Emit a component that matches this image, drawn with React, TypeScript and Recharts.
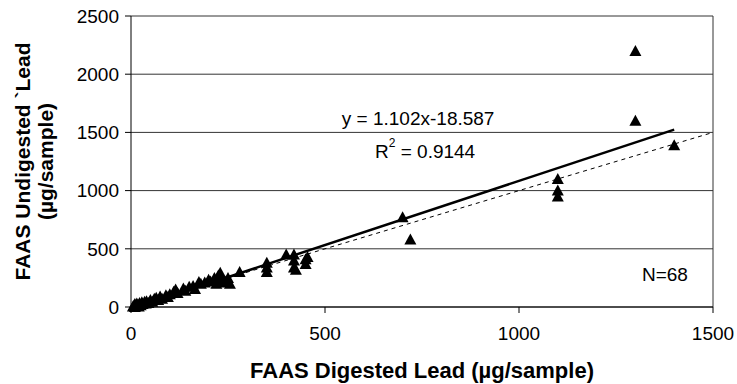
import React from 'react';
import { ScatterChart, Scatter, XAxis, YAxis, CartesianGrid, ReferenceLine, ReferenceDot } from 'recharts';

const FONT = '"Liberation Sans", Arial, Helvetica, sans-serif';

// FAAS digested lead (x) and undigested lead (y), µg/sample
const digestedLead = [
  5, 8, 10, 12, 15, 18, 20, 22, 25, 28, 30, 35, 38, 40, 45, 50, 55, 60, 10,
  65, 70, 75, 80, 90, 95, 100, 110, 115, 120, 135, 140, 150, 160, 165, 175, 180, 190, 200, 205,
  215, 220, 225, 230, 235, 240, 245, 250, 255, 280,
  350, 350, 350,
  400, 420, 420, 420, 425, 450, 450, 455,
  700, 720,
  1100, 1100, 1100,
  1300, 1300, 1400,
];
const undigestedLead = [
  5, 15, 25, 10, 30, 20, 5, 35, 15, 40, 25, 45, 30, 50, 35, 60, 45, 70, 0,
  80, 60, 90, 70, 100, 85, 110, 130, 150, 120, 160, 140, 175, 180, 155, 215, 200, 210, 235, 220,
  250, 200, 270, 295, 230, 210, 220, 250, 200, 300,
  380, 340, 300,
  450, 450, 400, 340, 320, 410, 370, 430,
  770, 580,
  1100, 1000, 950,
  2200, 1600, 1390,
];

const xTicks = [0, 500, 1000, 1500];
const yTicks = [0, 500, 1000, 1500, 2000, 2500];

const slope = 1.102;
const intercept = -18.587;
const trendStartX = 17;
const trendEndX = 1400;

const points = digestedLead.map((x, i) => ({ x, y: undigestedLead[i] }));

const Triangle = (props: any) => {
  const { cx, cy } = props;
  if (cx == null || cy == null) return null;
  return (
    <polygon
      points={`${cx},${cy - 6} ${cx + 6},${cy + 5} ${cx - 6},${cy + 5}`}
      fill="#000"
    />
  );
};

const YTitle = (props: any) => {
  const vb = props.viewBox || { x: 0, y: 16, width: 131, height: 291 };
  const cy = vb.y + vb.height / 2;
  const x1 = 22;
  const x2 = 45;
  return (
    <g>
      <text
        x={x1}
        y={cy}
        transform={`rotate(-90 ${x1} ${cy})`}
        textAnchor="middle"
        dominantBaseline="central"
        fontFamily={FONT}
        fontSize={21}
        fontWeight="bold"
        fill="#000"
      >
        FAAS Undigested `Lead
      </text>
      <text
        x={x2}
        y={cy}
        transform={`rotate(-90 ${x2} ${cy})`}
        textAnchor="middle"
        dominantBaseline="central"
        fontFamily={FONT}
        fontSize={21}
        fontWeight="bold"
        fill="#000"
      >
        (µg/sample)
      </text>
    </g>
  );
};

const XTitle = (props: any) => {
  const vb = props.viewBox || { x: 131, y: 307, width: 582, height: 77 };
  return (
    <text
      x={vb.x + vb.width / 2}
      y={370}
      textAnchor="middle"
      dominantBaseline="central"
      fontFamily={FONT}
      fontSize={22}
      fontWeight="bold"
      fill="#000"
    >
      FAAS Digested Lead (µg/sample)
    </text>
  );
};

const makeText = (content: React.ReactNode) => (props: any) => {
  const vb = props.viewBox || { x: 0, y: 0 };
  return (
    <text
      x={vb.x}
      y={vb.y}
      textAnchor="middle"
      dominantBaseline="central"
      fontFamily={FONT}
      fontSize={19}
      fill="#000"
    >
      {content}
    </text>
  );
};

const eqText = makeText('y = 1.102x-18.587');
const r2Text = makeText(
  <>
    <tspan>R</tspan>
    <tspan fontSize={12} dy={-8}>2</tspan>
    <tspan dy={8}> = 0.9144</tspan>
  </>
);
const nText = makeText('N=68');

export default function App() {
  return (
    <div style={{ position: 'absolute', left: 0, top: 0, width: 737, height: 384, background: '#fff' }}>
      <ScatterChart
        width={737}
        height={384}
        margin={{ top: 16, right: 24, bottom: 0, left: 0 }}
      >
        <CartesianGrid vertical={false} stroke="#333" strokeWidth={1} />
        <XAxis
          type="number"
          dataKey="x"
          domain={[0, 1500]}
          ticks={xTicks}
          interval={0}
          height={77}
          tickSize={6}
          tickMargin={14}
          axisLine={{ stroke: '#000' }}
          tickLine={{ stroke: '#000' }}
          tick={{ fill: '#000', fontSize: 19, fontFamily: FONT }}
          label={{ content: XTitle }}
        />
        <YAxis
          type="number"
          dataKey="y"
          domain={[0, 2500]}
          ticks={yTicks}
          interval={0}
          width={131}
          tickSize={6}
          tickMargin={6}
          axisLine={{ stroke: '#000' }}
          tickLine={{ stroke: '#000' }}
          tick={{ fill: '#000', fontSize: 19, fontFamily: FONT }}
          label={{ content: YTitle }}
        />
        <ReferenceLine x={1500} stroke="#333" />
        <ReferenceLine
          segment={[{ x: 0, y: 0 }, { x: 1500, y: 1500 }]}
          stroke="#000"
          strokeWidth={1}
          strokeDasharray="4 4"
        />
        <Scatter data={points} shape={Triangle} isAnimationActive={false} />
        <ReferenceLine
          segment={[
            { x: trendStartX, y: slope * trendStartX + intercept },
            { x: trendEndX, y: slope * trendEndX + intercept },
          ]}
          stroke="#000"
          strokeWidth={2.5}
        />
        <ReferenceDot x={740} y={1623} r={0} stroke="none" fill="none" label={{ content: eqText }} />
        <ReferenceDot x={758} y={1340} r={0} stroke="none" fill="none" label={{ content: r2Text }} />
        <ReferenceDot x={1376} y={275} r={0} stroke="none" fill="none" label={{ content: nText }} />
      </ScatterChart>
    </div>
  );
}
